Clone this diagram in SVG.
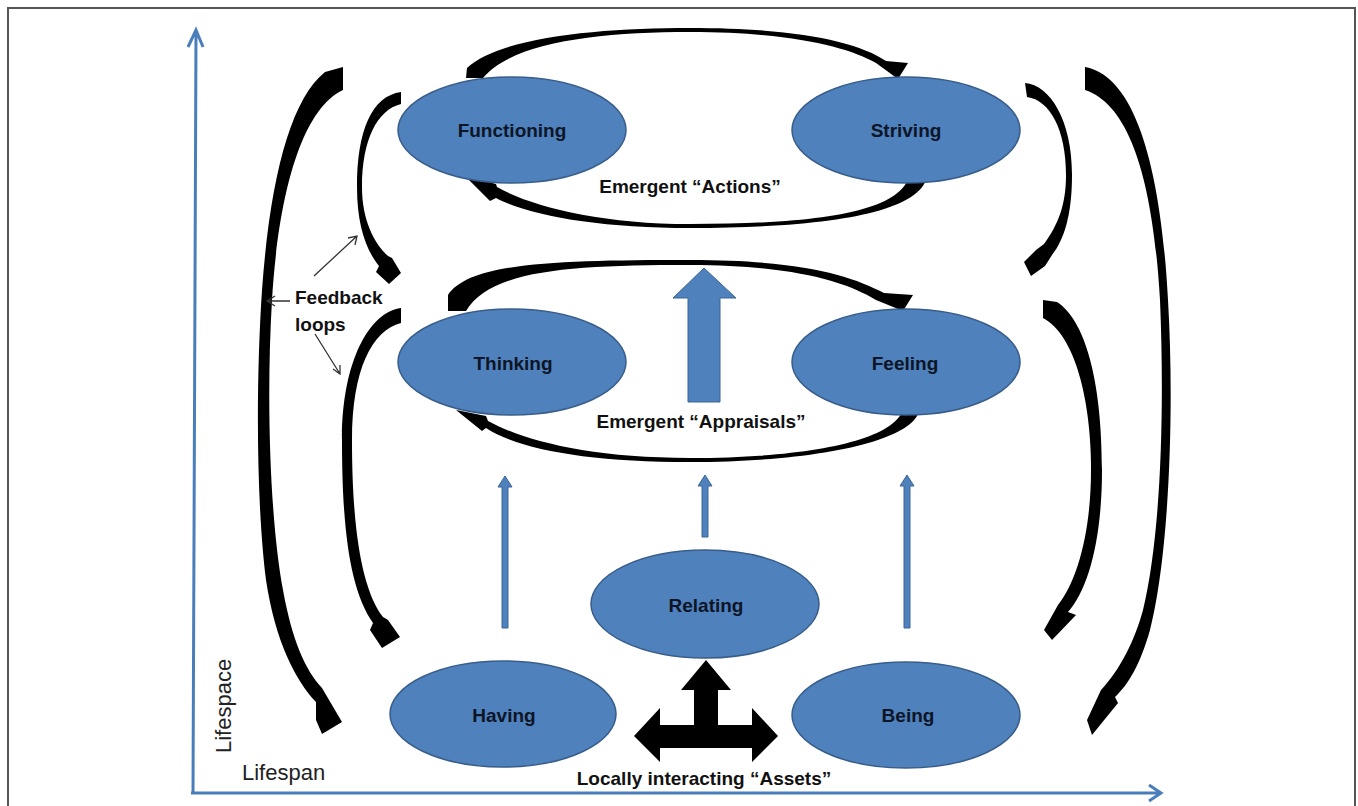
<svg xmlns="http://www.w3.org/2000/svg" width="1358" height="806" viewBox="0 0 1358 806">
<style>
.node ellipse{fill:#4F81BD;stroke:#385D8A;stroke-width:1.5}
.lbl{font-family:"Liberation Sans",Arial,sans-serif;font-weight:bold;font-size:19px;fill:#0d1526;text-anchor:middle}
.txt{font-family:"Liberation Sans",Arial,sans-serif;font-weight:bold;font-size:19px;fill:#111}
.reg{font-family:"Liberation Sans",Arial,sans-serif;font-size:22px;fill:#222}
.blk{fill:#000}
.blue{fill:#4F81BD;stroke:#3A6597;stroke-width:1}
.axis{stroke:#4A7EBB;stroke-width:3;fill:none}
.thin{stroke:#333;stroke-width:1.3;fill:none}
</style>
<rect x="0" y="0" width="1358" height="806" fill="#fff"/>
<path d="M8,806 L8,8 L1355,8 L1355,806" fill="none" stroke="#555" stroke-width="2"/>

<g id="axes">
<path class="axis" d="M193,793 L196,31 M188,47 L196,30 L203,47"/>
<path class="axis" d="M191,793 L1160,793 M1149,785 L1161,793 L1149,801"/>
<text class="reg" transform="translate(231,753) rotate(-90)">Lifespace</text>
<text class="reg" x="242" y="780">Lifespan</text>
</g>

<g id="connectors">
<!-- top loop: Functioning -> Striving -->
<path class="blk" d="M466,78 L467,68 C500,37 600,28 690,28 C790,28 855,40 886,61 L908,63 L898,79 L876,63 C848,47 790,32 690,32 C600,32 512,42 483,78 Z"/>
<!-- top loop: Striving -> Functioning -->
<path class="blk" d="M910,172 L927,175 C923,212 830,228 690,228 C600,228 530,216 496,198 L490,201 L465,176 L496,184 L497,187 C530,206 600,224 690,224 C820,224 905,212 910,172 Z"/>
<!-- middle loop: Thinking -> Feeling -->
<path class="blk" d="M448,311 L448,295 C470,262 560,260 690,260 C800,260 850,275 884,293 L913,295 L903,311 L876,300 C845,281 790,265 690,265 C570,265 490,270 466,311 Z"/>
<!-- middle loop: Feeling -> Thinking -->
<path class="blk" d="M903,409 L919,410 C915,440 820,462 690,462 C590,462 520,450 486,428 L482,431 L456,410 L486,416 L488,421 C525,441 590,458 690,458 C810,458 895,440 903,409 Z"/>
<!-- left inner upper feedback -->
<path class="blk" d="M401,92 C372,96 357,130 357,187 C357,225 366,250 379,266 L376,272 L389,284 L401,273 L392,258 L388,256 C374,243 362,220 362,187 C362,140 377,110 401,104 Z"/>
<!-- left inner lower feedback -->
<path class="blk" d="M401,308 C370,312 342,360 342,440 C342,530 350,590 373,623 L370,630 L382,648 L400,637 L388,620 L383,617 C362,590 352,530 352,440 C352,370 372,330 401,323 Z"/>
<!-- left outer feedback -->
<path class="blk" d="M325,72 L343,67 L343,90 C300,110 278,200 272,300 C266,400 270,520 283,590 C292,640 305,670 322,688 L342,722 L322,734 L316,720 L316,702 C295,680 275,640 266,580 C256,500 256,380 262,290 C270,180 290,100 325,72 Z"/>
<!-- right inner upper feedback -->
<path class="blk" d="M1025,83 C1050,85 1072,120 1072,175 C1072,215 1064,240 1052,255 L1045,266 L1031,276 L1024,262 L1036,250 L1044,244 C1058,225 1066,205 1066,175 C1066,130 1050,100 1027,97 Z"/>
<!-- right inner lower feedback -->
<path class="blk" d="M1043,300 L1057,302 C1085,320 1102,380 1102,470 C1102,540 1088,590 1068,612 L1076,615 L1052,640 L1044,630 L1058,605 C1078,580 1091,530 1091,470 C1091,400 1075,335 1043,318 Z"/>
<!-- right outer feedback -->
<path class="blk" d="M1085,67 C1130,75 1160,150 1168,300 C1175,420 1168,560 1150,630 C1140,665 1128,685 1115,697 L1118,703 L1092,735 L1087,720 L1101,690 C1120,670 1135,640 1143,610 C1160,540 1165,420 1160,300 C1153,180 1130,105 1085,90 Z"/>
<!-- local interaction arrow -->
<path class="blk" d="M706,660 L731,690 L718,690 L718,725 L752,725 L752,708 L778,736 L752,762 L752,748 L660,748 L660,762 L634,736 L660,708 L660,725 L694,725 L694,690 L681,690 Z"/>
<!-- emergence arrows (blue) -->
<path class="blue" d="M688,402 L688,298 L673,298 L704,268 L736,298 L720,298 L720,402 Z"/>
<path class="blue" d="M502,628 L502,487 L498,487 L505,476 L512,487 L508,487 L508,628 Z"/>
<path class="blue" d="M702,537 L702,486 L698,486 L705,475 L712,486 L708,486 L708,537 Z"/>
<path class="blue" d="M904,628 L904,486 L900,486 L907,475 L914,486 L910,486 L910,628 Z"/>
<!-- annotation arrows -->
<path class="thin" d="M314,276 L357,236 M348,238 L357,236 L355,245"/>
<path class="thin" d="M290,301 L267,301 M275,296 L267,301 L275,306"/>
<path class="thin" d="M315,334 L340,374 M333,369 L340,374 L340,365"/>
</g>

<g id="functioning" class="node"><ellipse cx="512" cy="130" rx="114" ry="53"/><text class="lbl" x="512" y="137">Functioning</text></g>
<g id="striving" class="node"><ellipse cx="906" cy="130" rx="114" ry="53"/><text class="lbl" x="906" y="137">Striving</text></g>
<g id="thinking" class="node"><ellipse cx="512" cy="362" rx="114" ry="53"/><text class="lbl" x="513" y="370">Thinking</text></g>
<g id="feeling" class="node"><ellipse cx="906" cy="362" rx="114" ry="53"/><text class="lbl" x="905" y="370">Feeling</text></g>
<g id="relating" class="node"><ellipse cx="705" cy="604" rx="114" ry="54"/><text class="lbl" x="706" y="612">Relating</text></g>
<g id="having" class="node"><ellipse cx="503" cy="714" rx="113" ry="53"/><text class="lbl" x="504" y="722">Having</text></g>
<g id="being" class="node"><ellipse cx="906" cy="715" rx="114" ry="53"/><text class="lbl" x="908" y="722">Being</text></g>

<g id="labels">
<text class="txt" x="690" y="193" text-anchor="middle">Emergent “Actions”</text>
<text class="txt" x="701" y="428" text-anchor="middle">Emergent “Appraisals”</text>
<text class="txt" x="704" y="785" text-anchor="middle">Locally interacting “Assets”</text>
<text class="txt" x="295" y="304">Feedback</text>
<text class="txt" x="295" y="331">loops</text>
</g>
</svg>
